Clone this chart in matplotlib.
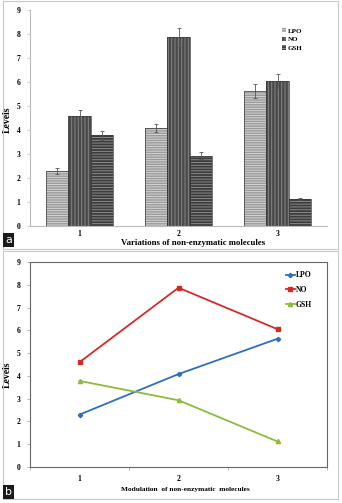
import matplotlib
matplotlib.use("Agg")
import matplotlib.pyplot as plt
from matplotlib.patches import Rectangle
import numpy as np

# ---- data ----
groups = ["1", "2", "3"]
series = ["LPO", "NO", "GSH"]
lpo = [2.30, 4.08, 5.63]
no = [4.60, 7.87, 6.05]
gsh = [3.78, 2.93, 1.12]
lpo_err = [0.12, 0.18, 0.28]
no_err = [0.23, 0.40, 0.30]
gsh_err = [0.18, 0.15, 0.05]
yticks = [0, 1, 2, 3, 4, 5, 6, 7, 8, 9]
xlabel_a = "Variations of non-enzymatic molecules"
xlabel_b = "Modulation  of non-enzymatic  molecules"
ylabel = "Levels"

plt.rcParams['font.family'] = ['Liberation Serif', 'DejaVu Serif']
plt.rcParams['hatch.linewidth'] = 0.7

W, H = 342, 503
fig = plt.figure(figsize=(W / 100, H / 100), dpi=100)

def fx(px):
    return px / W

def fy(py):
    return 1 - py / H

# outer panel frames
for (x0, y0, x1, y1) in [(3, 1, 338, 249), (3, 251, 338, 499)]:
    fig.patches.append(Rectangle((fx(x0), fy(y1)), fx(x1 - x0), (y1 - y0) / H,
                                 transform=fig.transFigure, fill=False,
                                 edgecolor="#c8c8c8", linewidth=0.8))

# ---------------- panel a ----------------
axa = fig.add_axes([fx(30), fy(226), fx(297), 216 / H])
x = np.arange(len(groups)) + 0.5
bw = 0.228
bar_specs = [
    (lpo, lpo_err, -bw, "#9a9a9a", "#d4d4d4", "-------"),
    (no, no_err, 0.0, "#4a4a4a", "#858585", "|||||"),
    (gsh, gsh_err, bw, "#3c3c3c", "#8a8a8a", "------"),
]
for vals, errs, off, face, hcol, hatch in bar_specs:
    axa.bar(x + off, vals, width=bw, color=face, edgecolor=hcol, hatch=hatch,
            linewidth=0, zorder=2)
    axa.bar(x + off, vals, width=bw, fill=False, edgecolor="#3a3a3a",
            linewidth=0.5, zorder=3)
    axa.errorbar(x + off, vals, yerr=errs, fmt="none", ecolor="#555555",
                 elinewidth=0.6, capsize=1.2, capthick=0.6, zorder=4)

axa.set_xlim(0, 3)
axa.set_ylim(0, 9)
axa.set_yticks(yticks)
axa.set_yticklabels([str(v) for v in yticks], fontsize=5.5, fontweight="bold")
axa.set_xticks(x)
axa.set_xticklabels(groups, fontsize=5.5, fontweight="bold")
axa.tick_params(axis="x", length=0, pad=3)
axa.tick_params(axis="y", length=2, width=0.5, color="#bbbbbb", pad=5)
for s in ["top", "right"]:
    axa.spines[s].set_visible(False)
for s in ["left", "bottom"]:
    axa.spines[s].set_color("#bbbbbb")
    axa.spines[s].set_linewidth(0.8)
axa.set_ylabel(ylabel, fontsize=7, fontweight="bold")
axa.yaxis.set_label_coords(-18 / 297, 0.49)
fig.text(fx(193), fy(243), xlabel_a, fontsize=6.3, fontweight="bold",
         ha="center", va="center")

leg_handles = [Rectangle((0, 0), 1, 1, facecolor=f, edgecolor=h, hatch=ht, linewidth=0)
               for _, _, _, f, h, ht in bar_specs]
axa.legend(leg_handles, series, loc="upper left", bbox_to_anchor=(0.84, 0.93),
           frameon=False, prop={"size": 5, "weight": "bold"},
           handlelength=0.6, handleheight=0.6, handletextpad=0.2,
           labelspacing=0.45, borderaxespad=0)

# ---------------- panel b ----------------
axb = fig.add_axes([fx(30), fy(467), fx(297), 205 / H])
line_specs = [
    (lpo, "#2e6fbd", "D", 2.2),
    (no, "#d42a27", "s", 3.2),
    (gsh, "#8dbb3a", "^", 3.0),
]
for (vals, col, mk, ms), name in zip(line_specs, series):
    axb.plot(x, vals, color=col, marker=mk, markersize=ms, linewidth=1.3,
             label=name, zorder=3)

axb.set_xlim(0, 3)
axb.set_ylim(0, 9)
axb.set_yticks(yticks)
axb.set_yticklabels([str(v) for v in yticks], fontsize=5.5, fontweight="bold")
axb.set_xticks([0, 1, 2, 3])
axb.set_xticklabels([])
axb.set_xticks(x, minor=True)
axb.set_xticklabels(groups, minor=True, fontsize=5.5, fontweight="bold")
axb.tick_params(axis="x", which="major", length=2.5, width=0.5, color="#999999")
axb.tick_params(axis="x", which="minor", length=0, pad=6)
axb.tick_params(axis="y", length=2, width=0.5, color="#999999", pad=5)
for s in axb.spines.values():
    s.set_color("#666666")
    s.set_linewidth(0.8)
axb.set_ylabel(ylabel, fontsize=7, fontweight="bold")
axb.yaxis.set_label_coords(-18 / 297, 0.45)
fig.text(fx(185), fy(489), xlabel_b, fontsize=5.3, fontweight="bold",
         ha="center", va="center")
axb.legend(loc="upper left", bbox_to_anchor=(0.85, 0.97), frameon=False,
           prop={"size": 5.5, "weight": "bold"}, handlelength=1.2,
           handletextpad=0.1, labelspacing=0.9, borderaxespad=0)

# panel labels
for lab, (x0, y0) in [("a", (3, 233)), ("b", (3, 485))]:
    fig.patches.append(Rectangle((fx(x0), fy(y0 + 14)), fx(11), 14 / H,
                                 transform=fig.transFigure, facecolor="#1a1a1a",
                                 edgecolor="none"))
    fig.text(fx(x0 + 5.5), fy(y0 + 7), lab, color="white", fontsize=8,
             ha="center", va="center", family="DejaVu Sans")

fig.savefig("out.png", dpi=100)
